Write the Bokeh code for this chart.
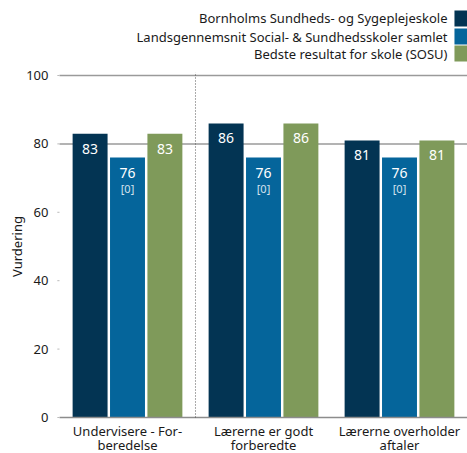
from bokeh.plotting import figure
from bokeh.models import ColumnDataSource, Range1d
from bokeh.core.properties import value
from bokeh.transform import dodge
from bokeh.embed import file_html
from bokeh.resources import INLINE

categories = ["Undervisere - For-\nberedelse", "Lærerne er godt\nforberedte", "Lærerne overholder\naftaler"]
series_names = ["Bornholms Sundheds- og Sygeplejeskole",
                "Landsgennemsnit Social- & Sundhedsskoler samlet",
                "Bedste resultat for skole (SOSU)"]
school = [83, 86, 81]
national = [76, 76, 76]
best = [83, 86, 81]
national_n = ["[0]", "[0]", "[0]"]
colors = ["#033453", "#05659b", "#7f9a5a"]
y_ticks = [0, 20, 40, 60, 80, 100]
grid_ticks = [80, 100]
y_label = "Vurdering"

FONT = "Noto Sans"
TXT = "#1a1a1a"
ncat = len(categories)
xc = [i + 0.5 for i in range(ncat)]
line1 = [c.split("\n")[0] for c in categories]
line2 = [c.split("\n")[1] for c in categories]
src = ColumnDataSource(dict(x=xc, school=school, national=national, best=best,
                            n=national_n, l1=line1, l2=line2, base=[0] * ncat,
                            ls=[str(v) for v in school],
                            ln=[str(v) for v in national],
                            lb=[str(v) for v in best]))

# frame covers the whole canvas; the left margin is part of the x range
p = figure(width=467, height=453, output_backend="svg", toolbar_location=None,
           x_range=Range1d(-0.4338, 3), y_range=Range1d(-10.53, 121.93),
           x_axis_location=None, y_axis_location=None,
           min_border_left=0, min_border_right=0, min_border_top=0, min_border_bottom=0)
p.outline_line_color = None
p.background_fill_color = "white"
p.xgrid.visible = False
p.ygrid.visible = False

# grid lines at 80 and 100
p.segment(x0=[0] * len(grid_ticks), y0=grid_ticks, x1=[3] * len(grid_ticks), y1=grid_ticks,
          line_color="#9a9a9a", line_width=1.5)

off = 0.275
bw = 0.257
for field, dx, c in [("school", -off, colors[0]), ("national", 0.0, colors[1]), ("best", off, colors[2])]:
    p.vbar(x=dodge("x", dx, range=p.x_range), top=field, width=bw, bottom=0,
           source=src, fill_color=c, line_color=None)

# baseline at 0
p.segment(x0=[0], y0=[0], x1=[3], y1=[0], line_color="#8c8c8c", line_width=1.5)

for lab, dx, yf in [("ls", -off, "school"), ("ln", 0.0, "national"), ("lb", off, "best")]:
    p.text(x=dodge("x", dx, range=p.x_range), y=yf, text=lab, source=src,
           text_color="white", text_font=value(FONT), text_font_size="14px",
           text_align="center", text_baseline="middle", y_offset=15)
p.text(x=dodge("x", 0.0, range=p.x_range), y="national", text="n", source=src,
       text_color="#d4e2ee", text_font=value(FONT), text_font_size="11px",
       text_align="center", text_baseline="middle", y_offset=31)

# category labels under the baseline (two lines)
for col, yo in [("l1", 14), ("l2", 28)]:
    p.text(x="x", y="base", text=col, source=src, text_align="center",
           text_baseline="middle", y_offset=yo, text_font=value(FONT),
           text_font_size="13px", text_color=TXT)

# dotted separator between first and second category
p.segment(x0=[1], y0=[0], x1=[1], y1=[100.9], line_color="#555555",
          line_dash="1 2", line_width=1)

# y tick labels and small tick marks
p.text(x=[-0.081] * len(y_ticks), y=y_ticks, text=[str(t) for t in y_ticks],
       text_align="right", text_baseline="middle", text_font=value(FONT),
       text_font_size="13px", text_color=TXT)
p.segment(x0=[-0.016] * len(y_ticks), y0=y_ticks, x1=[0] * len(y_ticks), y1=y_ticks,
          line_color="#bbbbbb", line_width=1)

# y axis title
p.text(x=[-0.309], y=[50], text=[y_label], angle=90, angle_units="deg",
       text_align="center", text_baseline="middle", text_font=value(FONT),
       text_font_size="13px", text_color=TXT)

# legend (manual: text right, swatch at right edge)
leg_y = [116.7, 111.4, 106.4]
p.text(x=[2.853] * 3, y=leg_y, text=series_names, text_align="right",
       text_baseline="middle", text_font=value(FONT), text_font_size="13px",
       text_color=TXT)
p.rect(x=[2.952] * 3, y=leg_y, width=13, height=16, width_units="screen",
       height_units="screen", fill_color=colors, line_color=None)

open("out.html", "w").write(file_html(p, INLINE))
